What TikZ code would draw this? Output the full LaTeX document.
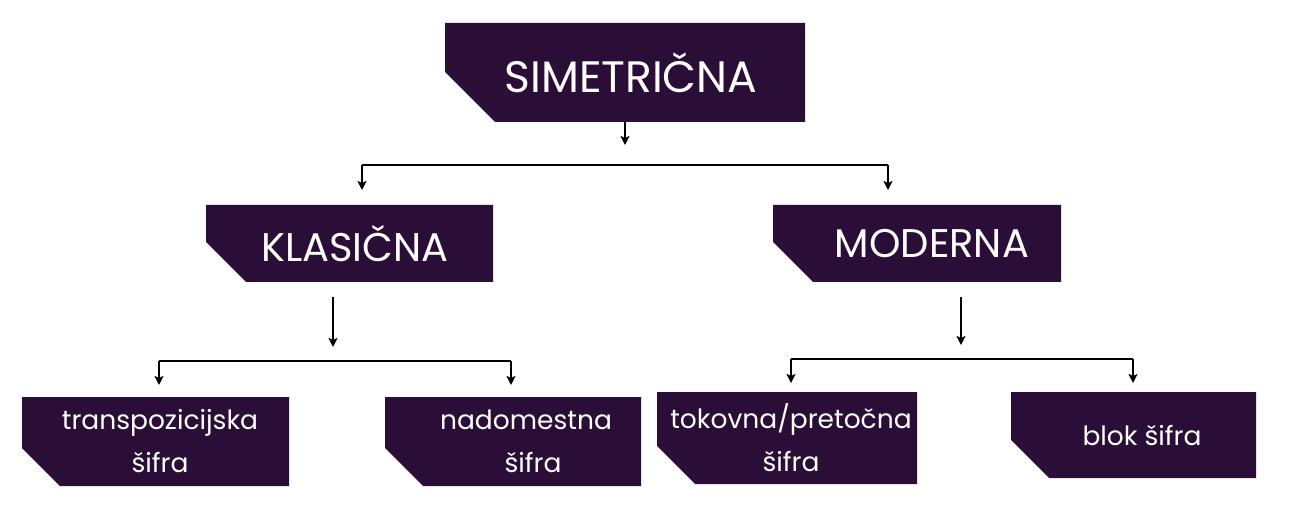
\documentclass[tikz,border=0pt]{standalone}
\usepackage{fontspec}
\setmainfont{Poppins}
\usetikzlibrary{positioning,arrows.meta}
\definecolor{tagfill}{HTML}{2A0E37}
\tikzset{
    % Tag boxes with a cut lower-left corner
    cut/.store in=\tagcut, cut=40pt,
    tag/.style={rectangle, inner sep=0pt, text=white, align=center,
        path picture={\fill[tagfill] (path picture bounding box.north west)
            -- (path picture bounding box.north east)
            -- (path picture bounding box.south east)
            -- ([xshift=\tagcut]path picture bounding box.south west)
            -- ([yshift=\tagcut]path picture bounding box.south west) -- cycle;}},
    head tag/.style={tag, font=\fontsize{40}{44}\selectfont},
    leaf tag/.style={tag, font=\fontsize{26.5}{43}\selectfont},
    text shift/.style={execute at begin node={\hspace*{#1}}},
    % Connectors
    link/.style={line width=2pt},
    arrow/.style={link, -{Stealth[length=9pt,width=9pt,inset=2pt]}},
}

\begin{document}
\begin{tikzpicture}[x=1pt, y=-1pt]
    \useasboundingbox (0,0) rectangle (1292,510);

    % Root
    \node[head tag, font=\fontsize{44}{48}\selectfont, cut=50pt, minimum width=360pt, minimum height=99pt, text shift=12pt] (sym) at (625,72.5) {SIMETRIČNA};

    % Families
    \node[head tag, minimum width=287pt, minimum height=77pt, text shift=11pt] (klas) at (349.5,243.5) {KLASIČNA};
    \node[head tag, minimum width=288pt, minimum height=77pt, text shift=30pt] (mod) at (917,243.5) {MODERNA};

    % Ciphers
    \node[leaf tag, cut=38pt, minimum width=267pt, minimum height=89pt] (trans) at (155.5,441.5) {\hspace*{9pt}transpozicijska\\\hspace*{9pt}šifra};
    \node[leaf tag, cut=38pt, minimum width=256pt, minimum height=89pt] (nado) at (513,441.5) {\hspace*{26pt}nadomestna\\\hspace*{40pt}šifra};
    \node[leaf tag, cut=38pt, minimum width=260pt, minimum height=92pt] (tok) at (787,438) {\hspace*{8pt}tokovna/pretočna\\\hspace*{8pt}šifra};
    \node[leaf tag, cut=38pt, minimum width=245pt, minimum height=86pt, text shift=17pt] (blok) at (1133.5,435) {blok šifra};

    % Root to families
    \coordinate (sym bus) at (625,165);
    \coordinate (kl in) at (362,190);
    \coordinate (mo in) at (888,190);
    \draw[arrow, shorten >=20pt] (sym.south) -- (sym bus);
    \draw[link] (sym bus -| kl in) -- (sym bus -| mo in);
    \foreach \c in {kl in, mo in} {
        \draw[arrow] (sym bus -| \c) -- (\c);
    }

    % KLASIČNA to ciphers
    \coordinate (kl out) at (333,347);
    \coordinate (kl bus) at (333,361);
    \coordinate (tr in) at (159,385);
    \coordinate (na in) at (511,385);
    \draw[arrow, shorten <=15pt] (klas.south -| kl out) -- (kl out);
    \draw[link] (kl bus -| tr in) -- (kl bus -| na in);
    \foreach \c in {tr in, na in} {
        \draw[arrow] (kl bus -| \c) -- (\c);
    }

    % MODERNA to ciphers
    \coordinate (mo out) at (961,345);
    \coordinate (mo bus) at (961,359);
    \coordinate (to in) at (791,383);
    \coordinate (bl in) at (1133,383);
    \draw[arrow, shorten <=15pt] (mod.south -| mo out) -- (mo out);
    \draw[link] (mo bus -| to in) -- (mo bus -| bl in);
    \foreach \c in {to in, bl in} {
        \draw[arrow] (mo bus -| \c) -- (\c);
    }
\end{tikzpicture}
\end{document}
